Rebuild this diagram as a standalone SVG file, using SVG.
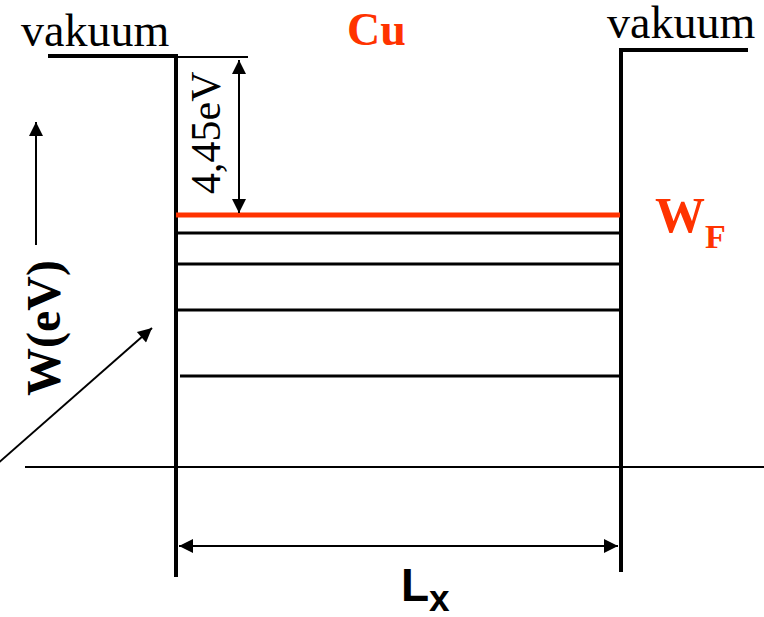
<svg xmlns="http://www.w3.org/2000/svg" width="764" height="617" viewBox="0 0 764 617">
<style>
.serif{font-family:"Liberation Serif","Times New Roman",Times,serif}
.sans{font-family:"Liberation Sans",Arial,sans-serif}
.wall{stroke:#000;stroke-width:4;fill:none}
.lvl{stroke:#000;stroke-width:3;fill:none}
.thin{stroke:#000;stroke-width:2;fill:none}
.red{fill:#FF3300}
</style>
<defs>
<marker id="ahb" viewBox="0 0 10 10" refX="10" refY="5" markerWidth="8" markerHeight="7" orient="auto-start-reverse">
<path d="M0,0 L10,5 L0,10 z" fill="#000"/>
</marker>
</defs>
<rect width="764" height="617" fill="#fff"/>

<g id="well">
<path class="wall" d="M48,56 H176 V577"/>
<path class="wall" d="M621,572 V50 H748"/>
<line class="thin" x1="176" y1="57" x2="248" y2="57"/>
</g>

<g id="levels">
<line x1="176" y1="215" x2="620" y2="215" stroke="#FF3300" stroke-width="5"/>
<line class="lvl" x1="176" y1="233" x2="619" y2="233"/>
<line class="lvl" x1="176" y1="264" x2="619" y2="264"/>
<line class="lvl" x1="176" y1="310" x2="619" y2="310"/>
<line class="lvl" x1="180" y1="376" x2="619" y2="376"/>
</g>

<g id="axis">
<line class="thin" x1="25" y1="467" x2="764" y2="467"/>
</g>

<g id="connectors">
<line class="thin" x1="239" y1="60" x2="239" y2="213" marker-start="url(#ahb)" marker-end="url(#ahb)"/>
<line class="thin" x1="179" y1="546" x2="618" y2="546" marker-start="url(#ahb)" marker-end="url(#ahb)"/>
<line class="thin" x1="36" y1="245" x2="36" y2="122" marker-end="url(#ahb)"/>
<line class="thin" x1="-4" y1="465" x2="152" y2="328" marker-end="url(#ahb)"/>
</g>

<g id="labels">
<text class="serif" x="21" y="46" font-size="46">vakuum</text>
<text class="serif" x="607" y="38" font-size="46">vakuum</text>
<text class="serif red" x="347" y="45" font-size="46" font-weight="bold">Cu</text>
<text class="serif red" x="655" y="232" font-size="50" font-weight="bold">W<tspan font-size="34" dy="16">F</tspan></text>
<text class="serif" transform="translate(220,194) rotate(-90)" font-size="42">4,45eV</text>
<text class="serif" transform="translate(60,396) rotate(-90)" font-size="48" font-weight="bold">W(eV)</text>
<text class="sans" x="401" y="601" font-size="46" font-weight="bold">L<tspan font-size="37" dy="10">x</tspan></text>
</g>
</svg>
